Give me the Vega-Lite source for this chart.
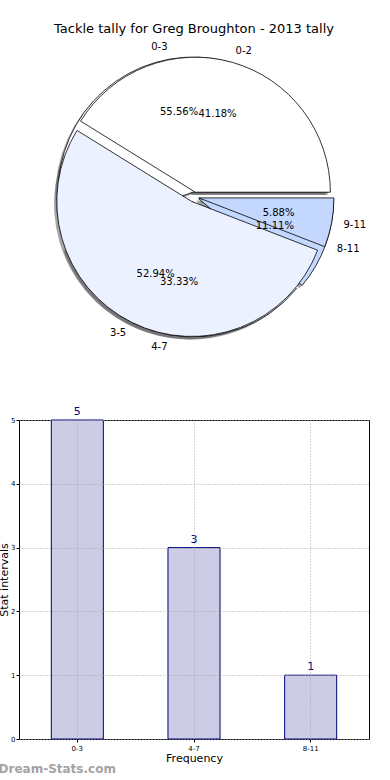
{
  "$schema": "https://vega.github.io/schema/vega-lite/v6.json",
  "background": "white",
  "padding": {"left": -2, "top": 23, "right": 0, "bottom": 0},
  "config": {"font": "DejaVu Sans", "view": {"stroke": null}, "title": {"fontWeight": "normal", "color": "black"}},
  "datasets": {
    "tally": [
      {"pie": "B", "label": "0-3", "value": 5, "k": 1},
      {"pie": "B", "label": "4-7", "value": 3, "k": 2},
      {"pie": "B", "label": "8-11", "value": 1, "k": 3},
      {"pie": "A", "label": "0-2", "value": 7, "k": 1},
      {"pie": "A", "label": "3-5", "value": 9, "k": 2},
      {"pie": "A", "label": "9-11", "value": 1, "k": 3}
    ]
  },
  "bounds": "flush",
  "spacing": 73,
  "vconcat": [
    {
      "width": 350,
      "height": 300,
      "title": {"text": "Tackle tally for Greg Broughton - 2013 tally", "fontSize": 13, "offset": 6},
      "data": {"name": "tally"},
      "encoding": {
        "theta": {"field": "value", "type": "quantitative", "stack": "normalize", "scale": {"range": [1.5707963268, -4.7123889804]}},
        "order": {"field": "k", "type": "quantitative"},
        "x": {"datum": 0, "type": "quantitative", "scale": {"domain": [-1, 1]}, "axis": null},
        "y": {"datum": 0, "type": "quantitative", "scale": {"domain": [-1, 1]}, "axis": null}
      },
      "layer": [
        {
          "transform": [{"filter": "datum.pie === 'B'"}],
          "mark": {"type": "arc", "radius": 135, "fill": "#4b4c50", "opacity": 0.5,
            "xOffset": {"expr": "5*cos(PI*(datum.value_start+datum.value_end))-2.7"},
            "yOffset": {"expr": "-5*sin(PI*(datum.value_start+datum.value_end))+2.7"}}
        },
        {
          "transform": [{"filter": "datum.pie === 'A'"}],
          "mark": {"type": "arc", "radius": 135, "fill": "#4b4c50", "opacity": 0.5,
            "xOffset": {"expr": "5*cos(PI*(datum.value_start+datum.value_end))-2.7"},
            "yOffset": {"expr": "-5*sin(PI*(datum.value_start+datum.value_end))+2.7"}}
        },
        {
          "transform": [{"filter": "datum.pie === 'B'"}],
          "mark": {"type": "arc", "radius": 135, "stroke": "black", "strokeWidth": 0.8,
            "xOffset": {"expr": "5*cos(PI*(datum.value_start+datum.value_end))"},
            "yOffset": {"expr": "-5*sin(PI*(datum.value_start+datum.value_end))"}},
          "encoding": {"color": {"field": "k", "type": "nominal", "scale": {"domain": [1, 2, 3], "range": ["#ffffff", "#ebf1ff", "#c4d8ff"]}, "legend": null}}
        },
        {
          "transform": [{"filter": "datum.pie === 'A'"}],
          "mark": {"type": "arc", "radius": 135, "stroke": "black", "strokeWidth": 0.8,
            "xOffset": {"expr": "5*cos(PI*(datum.value_start+datum.value_end))"},
            "yOffset": {"expr": "-5*sin(PI*(datum.value_start+datum.value_end))"}},
          "encoding": {"color": {"field": "k", "type": "nominal", "scale": {"domain": [1, 2, 3], "range": ["#ffffff", "#ebf1ff", "#c4d8ff"]}, "legend": null}}
        },
        {
          "transform": [{"filter": "datum.pie === 'B'"}],
          "mark": {"type": "text", "radius": 147, "fontSize": 10, "color": "black", "baseline": "middle",
            "align": {"expr": "cos(PI*(datum.value_start+datum.value_end)) > 0 ? 'left' : 'right'"},
            "xOffset": {"expr": "5*cos(PI*(datum.value_start+datum.value_end))"},
            "yOffset": {"expr": "-5*sin(PI*(datum.value_start+datum.value_end))"}},
          "encoding": {"text": {"field": "label"}}
        },
        {
          "transform": [{"filter": "datum.pie === 'A'"}],
          "mark": {"type": "text", "radius": 147, "fontSize": 10, "color": "black", "baseline": "middle",
            "align": {"expr": "cos(PI*(datum.value_start+datum.value_end)) > 0 ? 'left' : 'right'"},
            "xOffset": {"expr": "5*cos(PI*(datum.value_start+datum.value_end))"},
            "yOffset": {"expr": "-5*sin(PI*(datum.value_start+datum.value_end))"}},
          "encoding": {"text": {"field": "label"}}
        },
        {
          "transform": [{"filter": "datum.pie === 'B'"}],
          "mark": {"type": "text", "radius": 81, "fontSize": 10, "color": "black", "baseline": "middle", "align": "center",
            "text": {"expr": "format(datum.value_end - datum.value_start, '.2%')"},
            "xOffset": {"expr": "5*cos(PI*(datum.value_start+datum.value_end))"},
            "yOffset": {"expr": "-5*sin(PI*(datum.value_start+datum.value_end))"}}
        },
        {
          "transform": [{"filter": "datum.pie === 'A'"}],
          "mark": {"type": "text", "radius": 81, "fontSize": 10, "color": "black", "baseline": "middle", "align": "center",
            "text": {"expr": "format(datum.value_end - datum.value_start, '.2%')"},
            "xOffset": {"expr": "5*cos(PI*(datum.value_start+datum.value_end))"},
            "yOffset": {"expr": "-5*sin(PI*(datum.value_start+datum.value_end))"}}
        }
      ]
    },
    {
      "width": 350,
      "height": 319,
      "view": {"stroke": "black", "strokeWidth": 1},
      "data": {"name": "tally"},
      "transform": [{"filter": "datum.pie === 'B'"}],
      "title": {"text": "Dream-Stats.com", "orient": "bottom", "anchor": "start", "frame": "bounds", "fontSize": 12, "fontWeight": "bold", "color": "#a3a3a3", "offset": 1},
      "encoding": {
        "x": {"field": "label", "type": "nominal", "sort": null,
          "scale": {"paddingInner": 0.554, "paddingOuter": 0.277},
          "axis": {"title": "Frequency", "labelAngle": 0, "labelFontSize": 7, "labelColor": "black", "titleFontSize": 11, "titleFontWeight": "normal", "titleColor": "black", "titlePadding": 1, "labelPadding": 2, "tickSize": 3, "tickColor": "black", "domain": false, "grid": true, "bandPosition": 0.5, "gridDash": [1, 2], "gridColor": "#a8a8a8", "zindex": 1}},
        "y": {"field": "value", "type": "quantitative", "scale": {"domain": [0, 5], "nice": false},
          "axis": {"title": "Stat intervals", "values": [0, 1, 2, 3, 4, 5], "labelFontSize": 7, "labelColor": "black", "titleFontSize": 11, "titleFontWeight": "normal", "titleColor": "black", "titlePadding": 1, "labelPadding": 1, "tickSize": 3, "tickColor": "black", "domain": false, "grid": true, "gridDash": [1, 2], "gridColor": "#a8a8a8", "zindex": 1}}
      },
      "layer": [
        {"mark": {"type": "bar", "fill": "#ccccE5", "stroke": "#000080", "strokeWidth": 1}},
        {"mark": {"type": "text", "baseline": "bottom", "dy": -3, "color": "#000080", "fontSize": 11}, "encoding": {"text": {"field": "value"}}}
      ]
    }
  ]
}
